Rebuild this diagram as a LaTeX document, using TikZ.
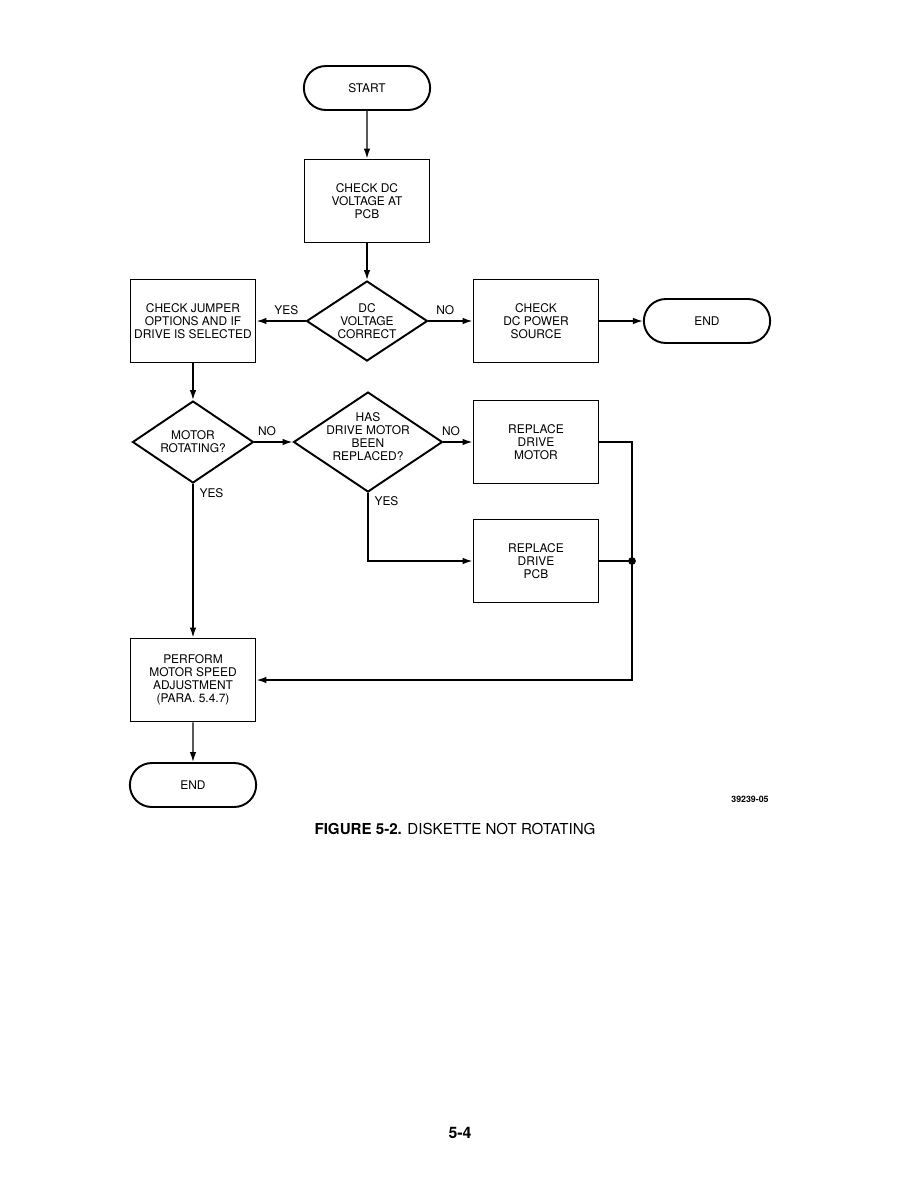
\documentclass[tikz,border=0pt]{standalone}
\usepackage{fontspec}
\setmainfont{TeX Gyre Heros}
\usepackage{tikz}
\usetikzlibrary{arrows.meta,shapes.geometric,shapes.misc}

\begin{document}
\begin{tikzpicture}[
    x=0.02cm, y=-0.02cm,
    font=\fontsize{6.8}{7.4}\selectfont,
    every node/.style={align=center},
    proc/.style={draw, line width=1.1pt, minimum width=2.5cm, minimum height=1.66cm, inner sep=1pt},
    term/.style={draw, line width=1.1pt, rounded rectangle, minimum width=2.76cm, minimum height=0.88cm},
    decision/.style={draw, line width=1.1pt, diamond, inner sep=0pt},
    flow/.style={line width=0.8pt, -{Latex[length=2mm,width=1.3mm]}},
    wire/.style={line width=0.8pt},
]
\useasboundingbox (0,0) rectangle (918,1188);

    % main column
    \node[term] (start) at (367,88) {START};
    \node[proc] (checkdc) at (367,201) {CHECK DC\\VOLTAGE AT\\PCB};
    \node[decision, minimum width=2.42cm, minimum height=1.6cm,
        label={center:DC\\VOLTAGE\\CORRECT}] (dcok) at (367,321) {};
    \node[proc] (jumper) at (193,321) {CHECK JUMPER\\OPTIONS AND IF\\DRIVE IS SELECTED};
    \node[proc] (power) at (536,321) {CHECK\\DC POWER\\SOURCE};
    \node[term] (endright) at (707,321) {END};

    % motor checks
    \node[decision, minimum width=2.42cm, minimum height=1.64cm,
        label={center:MOTOR\\ROTATING?}] (motorrot) at (193,442) {};
    \node[decision, minimum width=2.98cm, minimum height=2cm,
        label={[yshift=3pt]center:HAS\\DRIVE MOTOR\\BEEN\\REPLACED?}] (hasrepl) at (368,442) {};
    \node[proc] (replmotor) at (536,442) {REPLACE\\DRIVE\\MOTOR};
    \node[proc] (replpcb) at (536,561) {REPLACE\\DRIVE\\PCB};
    \node[proc] (perform) at (193,680) {PERFORM\\MOTOR SPEED\\ADJUSTMENT\\(PARA. 5.4.7)};
    \node[term] (endbot) at (193,785) {END};
    \coordinate (join) at (632,561);

    \draw[flow] (start) -- (checkdc);
    \draw[flow] (checkdc) -- (dcok);
    \draw[flow] (dcok.west) -- node[above, pos=0.39] {YES} (jumper.east);
    \draw[flow] (dcok.east) -- node[above, pos=0.38] {NO} (power.west);
    \draw[flow] (power) -- (endright);
    \draw[flow] (jumper) -- (motorrot);
    \draw[flow] (motorrot.east) -- node[above, pos=0.33] {NO} (hasrepl.west);
    \draw[flow] (hasrepl.east) -- node[above, pos=0.26] {NO} (replmotor.west);
    \draw[flow] (hasrepl.south) |- node[right, pos=0.06] {YES} (replpcb.west);
    \draw[flow] (motorrot.south) -- node[right, pos=0.06] {YES} (perform.north);
    \draw[flow] (perform) -- (endbot);

    % replacement paths back to adjustment
    \draw[wire] (replmotor.east) -| (join);
    \draw[wire] (replpcb.east) -- (join);
    \draw[flow] (join) |- (perform.east);
    \fill (join) circle (2.2pt);

    \node[font=\fontsize{5}{6}\selectfont\bfseries] (figno) at (750,799) {39239-05};
    \node[font=\fontsize{8.6}{10}\selectfont] (caption) at (455,829) {{\bfseries FIGURE 5-2.} DISKETTE NOT ROTATING};
    \node[font=\fontsize{9}{10}\selectfont\bfseries] (pageno) at (460,1133) {5-4};
\end{tikzpicture}
\end{document}
